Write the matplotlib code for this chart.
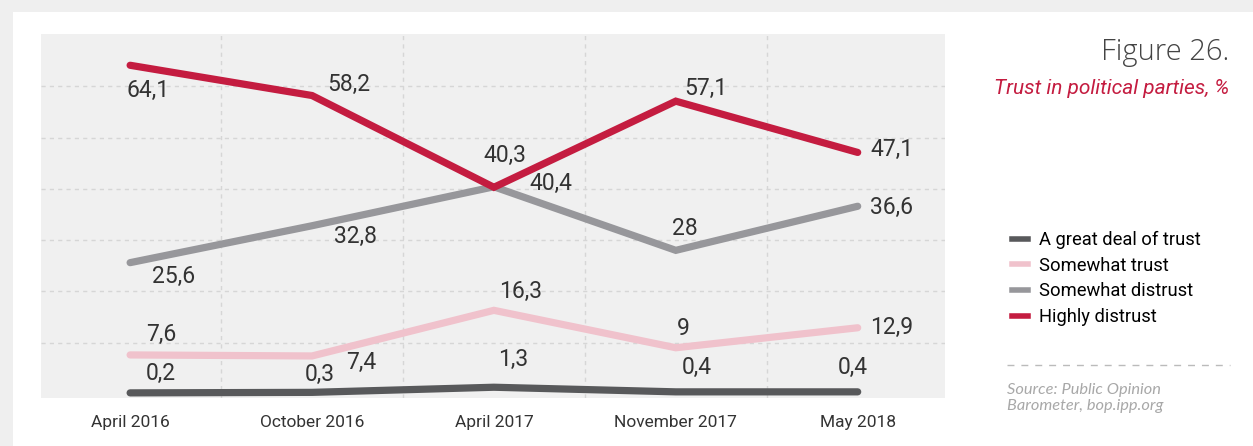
import matplotlib
matplotlib.use("Agg")
import matplotlib.pyplot as plt
from matplotlib import font_manager
from matplotlib.patches import Rectangle
from matplotlib.lines import Line2D

# Datos
periods = ['April 2016', 'October 2016', 'April 2017', 'November 2017', 'May 2018']
great_deal = [0.2, 0.3, 1.3, 0.4, 0.4]
somewhat_trust = [7.6, 7.4, 16.3, 9, 12.9]
somewhat_distrust = [25.6, 32.8, 40.4, 28, 36.6]
highly_distrust = [64.1, 58.2, 40.3, 57.1, 47.1]
series_names = ['A great deal of trust', 'Somewhat trust', 'Somewhat distrust', 'Highly distrust']

names = {f.name for f in font_manager.fontManager.ttflist}
narrow = 'Liberation Sans Narrow' if 'Liberation Sans Narrow' in names else 'Roboto'

colors = ['#58595b', '#f0c2cc', '#97979b', '#c41c40']
# desplazamiento de etiquetas en píxeles
offsets = [
    [(31, 19), (8, 18), (19, 28), (21, 24), (-5, 24)],
    [(31, 20), (49, -7), (27, 19), (8, 19), (34, 0)],
    [(43, -14), (43, -11), (57, 3), (9, 22), (34, -1)],
    [(18, -25), (37, 11), (11, 32), (30, 13), (34, 3)],
]

def fmt(v):
    return ('%g' % v).replace('.', ',')

fig = plt.figure(figsize=(12.53, 4.46), dpi=100)
fig.patch.set_facecolor('#efefef')
fig.add_artist(Rectangle((13 / 1253, 0), (1253 - 13) / 1253, (446 - 12) / 446,
                         transform=fig.transFigure, facecolor='white', edgecolor='none', zorder=0))

ax = fig.add_axes([41 / 1253, (446 - 398) / 446, (945 - 41) / 1253, (398 - 34) / 446])
ax.set_facecolor('#f0f0f0')
x = list(range(len(periods)))
all_series = [great_deal, somewhat_trust, somewhat_distrust, highly_distrust]
for vals, c in zip(all_series, colors):
    ax.plot(x, vals, color=c, lw=5.2, solid_capstyle='round', solid_joinstyle='miter', zorder=3)
for vals, offs in zip(all_series, offsets):
    for xi, v, (dx, dy) in zip(x, vals, offs):
        ax.annotate(fmt(v), (xi, v), xytext=(dx, dy), textcoords='offset pixels',
                    ha='center', va='center', fontsize=16.5, family=narrow,
                    color='#333333', zorder=4)

ax.set_xlim(-0.49, 4.48)
ax.set_ylim(-0.8, 70.2)
for gy in [10, 20, 30, 40, 50, 60]:
    ax.axhline(gy, color='#d6d6d6', lw=1, ls=(0, (3, 3)), zorder=1)
for gx in [0.5, 1.5, 2.5, 3.5]:
    ax.axvline(gx, color='#d6d6d6', lw=1, ls=(0, (3, 3)), zorder=1)
ax.set_xticks(x)
ax.set_xticklabels(periods, family=narrow, fontsize=12.5, color='#333333')
ax.tick_params(axis='x', length=0, pad=12)
ax.set_yticks([])
for s in ax.spines.values():
    s.set_visible(False)

# Título
fig.text(1229 / 1253, 1 - 52 / 446, 'Figure 26.', ha='right', va='center',
         fontsize=21, family='Open Sans', fontweight='light', color='#444444')
fig.text(1229 / 1253, 1 - 88 / 446, 'Trust in political parties, %', ha='right', va='center',
         fontsize=15, family=narrow, style='italic', color='#c41c40')

# Leyenda
handles = [Line2D([], [], color=c, lw=4) for c in colors]
fig.legend(handles, series_names, loc='upper left', bbox_to_anchor=(1012 / 1253, 1 - 231 / 446),
           frameon=False, handlelength=0.85, handletextpad=0.6, labelspacing=0.42,
           borderpad=0, borderaxespad=0, prop={'family': narrow, 'size': 13.2})

fig.add_artist(Line2D([1007 / 1253, 1230 / 1253], [1 - 365 / 446, 1 - 365 / 446],
                      transform=fig.transFigure, color='#bbbbbb', lw=1, ls=(0, (5, 5))))
fig.text(1007 / 1253, 1 - 398 / 446, 'Source: Public Opinion\nBarometer, bop.ipp.org',
         ha='left', va='center', fontsize=11.8, family='Lato', style='italic',
         color='#a8a8a8', linespacing=1.15)

fig.savefig('out.png', dpi=100, facecolor=fig.get_facecolor())
